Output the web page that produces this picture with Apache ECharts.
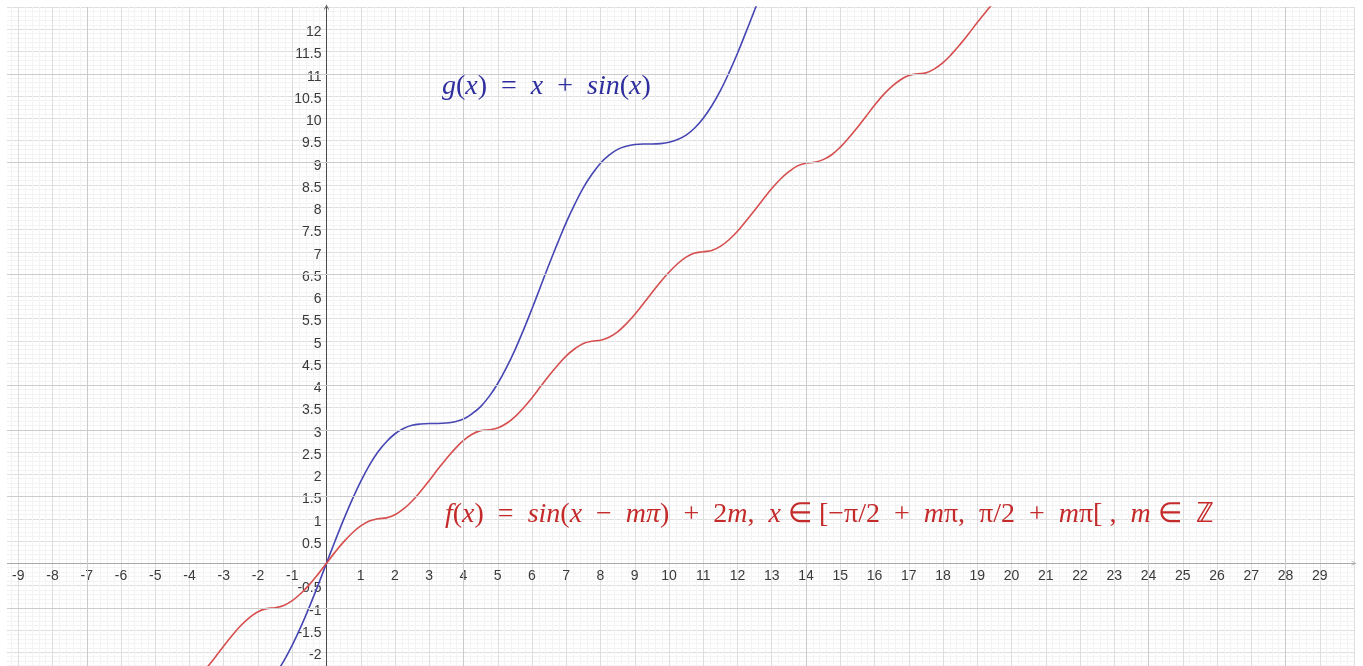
<!DOCTYPE html>
<html>
<head>
<meta charset="utf-8">
<title>g(x) = x + sin(x) and f(x)</title>
<script src="https://cdn.jsdelivr.net/npm/echarts@6/dist/echarts.min.js"></script>
<style>
  html, body { margin: 0; padding: 0; background: #fff; }
  #chart { width: 1363px; height: 666px; }
</style>
</head>
<body>
<div id="chart"></div>
<script>
// blue curve g(x)
const gX = [-2, -1.75, -1.5, -1.25, -1, -0.75, -0.5, -0.25, 0, 0.25, 0.5, 0.75, 1, 1.25, 1.5, 1.75,
  2, 2.25, 2.5, 2.75, 3, 3.25, 3.5, 3.75, 4, 4.25, 4.5, 4.75, 5, 5.25, 5.5, 5.75,
  6, 6.25, 6.5, 6.75, 7, 7.25, 7.5, 7.75, 8, 8.25, 8.5, 8.75, 9, 9.25, 9.5, 9.75,
  10, 10.25, 10.5, 10.75, 11, 11.25, 11.5, 11.75, 12, 12.25, 12.5, 12.75, 13];
const gY = [-2.91, -2.73, -2.50, -2.20, -1.84, -1.43, -0.98, -0.50, 0, 0.50, 0.98, 1.43, 1.84, 2.20, 2.50, 2.73,
  2.91, 3.03, 3.10, 3.13, 3.14, 3.14, 3.15, 3.18, 3.24, 3.36, 3.52, 3.75, 4.04, 4.39, 4.79, 5.24,
  5.72, 6.22, 6.72, 7.20, 7.66, 8.07, 8.44, 8.74, 8.99, 9.17, 9.30, 9.37, 9.41, 9.42, 9.42, 9.43,
  9.46, 9.52, 9.62, 9.78, 10.00, 10.28, 10.62, 11.02, 11.46, 11.94, 12.43, 12.93, 13.42];

// red staircase curve f(x)
const fX = [-4, -3.75, -3.5, -3.25, -3, -2.75, -2.5, -2.25, -2, -1.75, -1.5, -1.25, -1, -0.75, -0.5, -0.25,
  0, 0.25, 0.5, 0.75, 1, 1.25, 1.5, 1.75, 2, 2.25, 2.5, 2.75, 3, 3.25, 3.5, 3.75,
  4, 4.25, 4.5, 4.75, 5, 5.25, 5.5, 5.75, 6, 6.25, 6.5, 6.75, 7, 7.25, 7.5, 7.75,
  8, 8.25, 8.5, 8.75, 9, 9.25, 9.5, 9.75, 10, 10.25, 10.5, 10.75, 11, 11.25, 11.5, 11.75,
  12, 12.25, 12.5, 12.75, 13, 13.25, 13.5, 13.75, 14, 14.25, 14.5, 14.75, 15, 15.25, 15.5, 15.75,
  16, 16.25, 16.5, 16.75, 17, 17.25, 17.5, 17.75, 18, 18.25, 18.5, 18.75, 19, 19.25, 19.5, 19.75, 20];
const fY = [-2.76, -2.57, -2.35, -2.11, -1.86, -1.62, -1.40, -1.22, -1.09, -1.02, -1.00, -0.95, -0.84, -0.68, -0.48, -0.25,
  0, 0.25, 0.48, 0.68, 0.84, 0.95, 1.00, 1.02, 1.09, 1.22, 1.40, 1.62, 1.86, 2.11, 2.35, 2.57,
  2.76, 2.90, 2.98, 3.00, 3.04, 3.14, 3.29, 3.49, 3.72, 3.97, 4.22, 4.45, 4.66, 4.82, 4.94, 4.99,
  5.01, 5.08, 5.20, 5.38, 5.59, 5.83, 6.08, 6.32, 6.54, 6.73, 6.88, 6.97, 7.00, 7.03, 7.12, 7.27,
  7.46, 7.69, 7.93, 8.18, 8.42, 8.63, 8.80, 8.93, 8.99, 9.01, 9.07, 9.18, 9.35, 9.56, 9.79, 10.04,
  10.29, 10.52, 10.71, 10.86, 10.96, 11.00, 11.02, 11.11, 11.25, 11.44, 11.66, 11.90, 12.15, 12.39, 12.61, 12.78, 12.91];

// grid lines that show up darker in the screenshot
const accentX = [-7, 4, 14, 24, 28];
const accentY = [11, 9, 6.5, 4, 3, 1.5, -1];

const zip = (xs, ys) => xs.map((x, i) => [x, ys[i]]);

const chart = echarts.init(document.getElementById('chart'));

// plot box runs past the page edges so the tick steps start on whole numbers
const W = 1363, H = 666;
const box = { left: -16, right: 9, top: 7, bottom: -8.5 };
const xMin = -10, xMax = 30, yMin = -2.5, yMax = 12.5;
const boxW = W - box.left - box.right, boxH = H - box.top - box.bottom;
// distance of the zero lines from the left / bottom edge of the box
const yAxisShift = (0 - xMin) / (xMax - xMin) * boxW;
const xAxisShift = (0 - yMin) / (yMax - yMin) * boxH;

const chevron = 'path://M0,10 L5,0 L10,10 L8.4,10 L5,3.2 L1.6,10 Z';
const labelFont = { color: '#3a3a3a', fontSize: 14, fontFamily: 'Liberation Sans, Arial, sans-serif' };
const mathFont = 'Liberation Serif, Times New Roman, serif';

function richStyles(color, size) {
  return {
    i: { fontStyle: 'italic', fontFamily: mathFont, fontSize: size, fill: color },
    r: { fontStyle: 'normal', fontFamily: mathFont, fontSize: size, fill: color }
  };
}

const option = {
  animation: false,
  grid: { ...box, containLabel: false, outerBoundsMode: 'none' },
  xAxis: {
    type: 'value',
    position: 'bottom',
    offset: -xAxisShift,
    min: xMin,
    max: xMax,
    interval: 1,
    axisLine: {
      onZero: false,
      lineStyle: { color: '#a8a8a8', width: 1 },
      symbol: ['none', chevron],
      symbolSize: [8, 5]
    },
    axisTick: { show: false },
    axisLabel: {
      ...labelFont,
      margin: 6,
      showMinLabel: false,
      showMaxLabel: false,
      formatter: v => (v === 0 ? '' : String(v))
    },
    splitLine: { show: true, lineStyle: { color: '#dedede', width: 1 } },
    minorTick: { show: false, splitNumber: 5 },
    minorSplitLine: { show: true, lineStyle: { color: '#f3f3f3', width: 1 } }
  },
  yAxis: {
    type: 'value',
    position: 'left',
    offset: -yAxisShift,
    min: yMin,
    max: yMax,
    interval: 0.5,
    axisLine: {
      onZero: false,
      lineStyle: { color: '#4a4a4a', width: 1 },
      symbol: ['none', chevron],
      symbolSize: [8, 5]
    },
    axisTick: { show: false },
    axisLabel: {
      ...labelFont,
      margin: 5,
      showMinLabel: false,
      showMaxLabel: false,
      // labels sit a little under their grid line in the original
      formatter: v => (v === 0 ? '' : '{n|' + v + '}'),
      rich: { n: { ...labelFont, padding: [6, 0, 0, 0] } }
    },
    splitLine: { show: true, lineStyle: { color: '#dedede', width: 1 } },
    minorTick: { show: false, splitNumber: 5 },
    minorSplitLine: { show: true, lineStyle: { color: '#f3f3f3', width: 1 } }
  },
  series: [
    {
      name: 'accent',
      type: 'line',
      data: [],
      z: 1,
      silent: true,
      markLine: {
        silent: true,
        symbol: 'none',
        label: { show: false },
        lineStyle: { color: '#cbcbcb', width: 1, type: 'solid' },
        data: accentX.map(v => ({ xAxis: v })).concat(accentY.map(v => ({ yAxis: v })))
      }
    },
    {
      name: 'g(x)',
      type: 'line',
      data: zip(gX, gY),
      smooth: 0.4,
      showSymbol: false,
      z: 3,
      lineStyle: { color: '#4646b4', width: 1.6 }
    },
    {
      name: 'f(x)',
      type: 'line',
      data: zip(fX, fY),
      smooth: 0.4,
      showSymbol: false,
      z: 3,
      lineStyle: { color: '#d64e4e', width: 1.6 }
    }
  ],
  graphic: [
    { type: 'rect', left: 0, top: 0, z: 100, shape: { width: 7, height: 666 }, style: { fill: '#fff' } },
    {
      type: 'text', left: 442, top: 73, z: 100,
      style: {
        text: '{i|g}{r|(}{i|x}{r|)  =  }{i|x}{r|  +  }{i|sin}{r|(}{i|x}{r|)}',
        rich: richStyles('#2e2e9e', 28)
      }
    },
    {
      type: 'text', left: 445, top: 501, z: 100,
      style: {
        text: '{i|f}{r|(}{i|x}{r|)  =  }{i|sin}{r|(}{i|x}{r|  −  }{i|mπ}{r|)  +  2}{i|m}{r|,  }{i|x}{r| ∈ [−π/2  +  }{i|m}{r|π,  π/2  +  }{i|m}{r|π[ ,  }{i|m}{r| ∈  ℤ}',
        rich: richStyles('#c42a2a', 28)
      }
    }
  ]
};

chart.setOption(option);
</script>
</body>
</html>
